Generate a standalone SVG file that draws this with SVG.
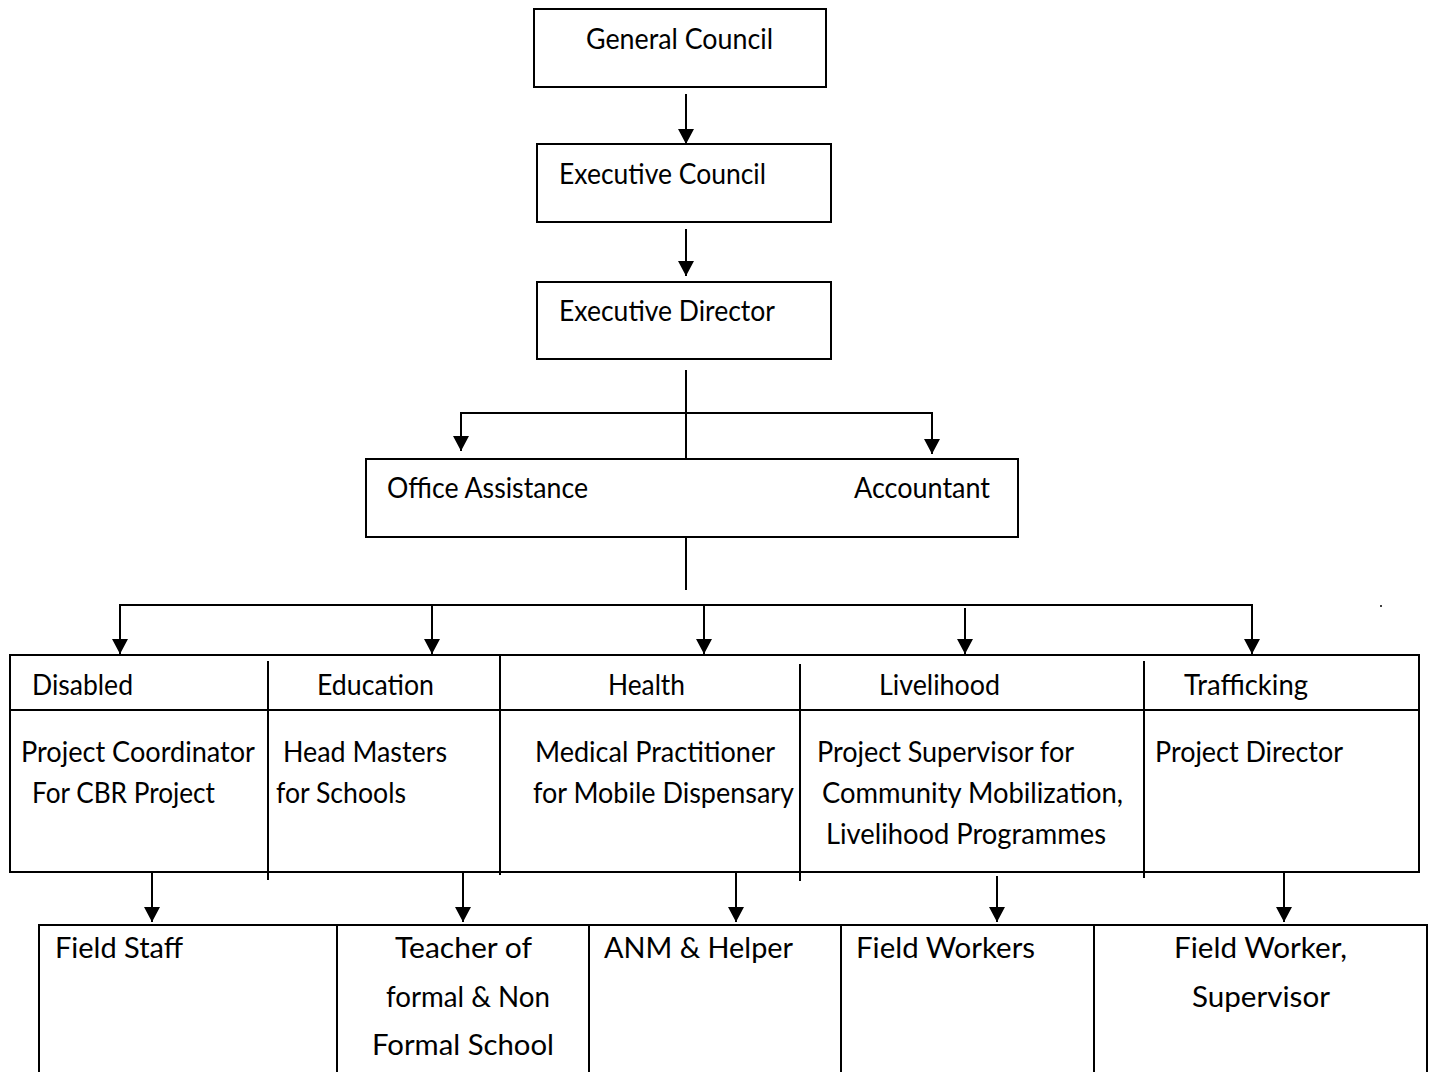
<svg xmlns="http://www.w3.org/2000/svg" width="1429" height="1072" viewBox="0 0 1429 1072">
  <style>
    .box { fill: #fff; stroke: #000; stroke-width: 2; }
    .ln { fill: none; stroke: #000; stroke-width: 2; }
    .t { font-family: Lato, "Liberation Sans", sans-serif; font-size: 28px; fill: #000; }
  </style>
  <defs>
    <marker id="arrow" markerUnits="userSpaceOnUse" markerWidth="16" markerHeight="18" refX="15" refY="9" orient="auto">
      <path d="M0,1 L15,9 L0,17 z" fill="#000"/>
    </marker>
  </defs>
  <rect width="1429" height="1072" fill="#fff"/>

  <!-- governing bodies -->
  <g id="general-council">
    <rect class="box" x="534" y="9" width="292" height="78"/>
    <text class="t" x="586" y="49" textLength="187" lengthAdjust="spacingAndGlyphs">General Council</text>
  </g>
  <g id="executive-council">
    <rect class="box" x="537" y="144" width="294" height="78"/>
    <text class="t" x="559" y="184" textLength="207" lengthAdjust="spacingAndGlyphs">Executive Council</text>
  </g>
  <g id="executive-director">
    <rect class="box" x="537" y="282" width="294" height="77"/>
    <text class="t" x="559" y="321" textLength="216" lengthAdjust="spacingAndGlyphs">Executive Director</text>
  </g>

  <!-- office staff -->
  <g id="office-staff">
    <rect class="box" x="366" y="459" width="652" height="78"/>
    <text class="t" x="387" y="498" textLength="201" lengthAdjust="spacingAndGlyphs">Office Assistance</text>
    <text class="t" x="854" y="498" textLength="136" lengthAdjust="spacingAndGlyphs">Accountant</text>
  </g>

  <!-- programme departments table -->
  <g id="departments">
    <rect class="box" x="10" y="655" width="1409" height="217"/>
    <line class="ln" x1="10" y1="710" x2="1419" y2="710"/>
    <line class="ln" x1="268" y1="661" x2="268" y2="880"/>
    <line class="ln" x1="500" y1="655" x2="500" y2="875"/>
    <line class="ln" x1="800" y1="664" x2="800" y2="881"/>
    <line class="ln" x1="1144" y1="661" x2="1144" y2="878"/>
  </g>
  <g id="dept-disabled">
    <text class="t" x="32" y="695" textLength="101" lengthAdjust="spacingAndGlyphs">Disabled</text>
    <text class="t" x="21" y="762" textLength="234" lengthAdjust="spacingAndGlyphs">Project Coordinator</text>
    <text class="t" x="32" y="803" textLength="183" lengthAdjust="spacingAndGlyphs">For CBR Project</text>
  </g>
  <g id="dept-education">
    <text class="t" x="317" y="695" textLength="117" lengthAdjust="spacingAndGlyphs">Education</text>
    <text class="t" x="283" y="762" textLength="164" lengthAdjust="spacingAndGlyphs">Head Masters</text>
    <text class="t" x="276" y="803" textLength="130" lengthAdjust="spacingAndGlyphs">for Schools</text>
  </g>
  <g id="dept-health">
    <text class="t" x="608" y="695" textLength="77" lengthAdjust="spacingAndGlyphs">Health</text>
    <text class="t" x="535" y="762" textLength="240" lengthAdjust="spacingAndGlyphs">Medical Practitioner</text>
    <text class="t" x="533" y="803" textLength="261" lengthAdjust="spacingAndGlyphs">for Mobile Dispensary</text>
  </g>
  <g id="dept-livelihood">
    <text class="t" x="879" y="695" textLength="121" lengthAdjust="spacingAndGlyphs">Livelihood</text>
    <text class="t" x="817" y="762" textLength="257" lengthAdjust="spacingAndGlyphs">Project Supervisor for</text>
    <text class="t" x="822" y="803" textLength="301" lengthAdjust="spacingAndGlyphs">Community Mobilization,</text>
    <text class="t" x="826" y="844" textLength="280" lengthAdjust="spacingAndGlyphs">Livelihood Programmes</text>
  </g>
  <g id="dept-trafficking">
    <text class="t" x="1184" y="695" textLength="124" lengthAdjust="spacingAndGlyphs">Trafficking</text>
    <text class="t" x="1155" y="762" textLength="188" lengthAdjust="spacingAndGlyphs">Project Director</text>
  </g>

  <!-- field level staff table -->
  <g id="field-staff-table">
    <rect class="box" x="39" y="925" width="1388" height="160"/>
    <line class="ln" x1="337" y1="925" x2="337" y2="1072"/>
    <line class="ln" x1="589" y1="925" x2="589" y2="1072"/>
    <line class="ln" x1="841" y1="925" x2="841" y2="1072"/>
    <line class="ln" x1="1094" y1="925" x2="1094" y2="1072"/>
  </g>
  <g id="field-disabled">
    <text class="t" x="55" y="958" textLength="128" lengthAdjust="spacingAndGlyphs">Field Staff</text>
  </g>
  <g id="field-education">
    <text class="t" x="395" y="958" textLength="137" lengthAdjust="spacingAndGlyphs">Teacher of</text>
    <text class="t" x="386" y="1007" textLength="164" lengthAdjust="spacingAndGlyphs">formal &amp; Non</text>
    <text class="t" x="372" y="1055" textLength="182" lengthAdjust="spacingAndGlyphs">Formal School</text>
  </g>
  <g id="field-health">
    <text class="t" x="604" y="958" textLength="189" lengthAdjust="spacingAndGlyphs">ANM &amp; Helper</text>
  </g>
  <g id="field-livelihood">
    <text class="t" x="856" y="958" textLength="179" lengthAdjust="spacingAndGlyphs">Field Workers</text>
  </g>
  <g id="field-trafficking">
    <text class="t" x="1174" y="958" textLength="173" lengthAdjust="spacingAndGlyphs">Field Worker,</text>
    <text class="t" x="1192" y="1007" textLength="138" lengthAdjust="spacingAndGlyphs">Supervisor</text>
  </g>

  <!-- connectors -->
  <g id="connectors">
    <line class="ln" x1="686" y1="94" x2="686" y2="144" marker-end="url(#arrow)"/>
    <line class="ln" x1="686" y1="229" x2="686" y2="276" marker-end="url(#arrow)"/>
    <line class="ln" x1="686" y1="370" x2="686" y2="459"/>
    <line class="ln" x1="461" y1="413" x2="932" y2="413"/>
    <line class="ln" x1="461" y1="412" x2="461" y2="451" marker-end="url(#arrow)"/>
    <line class="ln" x1="932" y1="412" x2="932" y2="454" marker-end="url(#arrow)"/>
    <line class="ln" x1="686" y1="537" x2="686" y2="590"/>
    <line class="ln" x1="120" y1="605" x2="1252" y2="605"/>
    <line class="ln" x1="120" y1="604" x2="120" y2="654" marker-end="url(#arrow)"/>
    <line class="ln" x1="432" y1="605" x2="432" y2="654" marker-end="url(#arrow)"/>
    <line class="ln" x1="704" y1="605" x2="704" y2="654" marker-end="url(#arrow)"/>
    <line class="ln" x1="965" y1="608" x2="965" y2="654" marker-end="url(#arrow)"/>
    <line class="ln" x1="1252" y1="604" x2="1252" y2="654" marker-end="url(#arrow)"/>
    <line class="ln" x1="152" y1="872" x2="152" y2="922" marker-end="url(#arrow)"/>
    <line class="ln" x1="463" y1="873" x2="463" y2="922" marker-end="url(#arrow)"/>
    <line class="ln" x1="736" y1="872" x2="736" y2="922" marker-end="url(#arrow)"/>
    <line class="ln" x1="997" y1="876" x2="997" y2="922" marker-end="url(#arrow)"/>
    <line class="ln" x1="1284" y1="872" x2="1284" y2="922" marker-end="url(#arrow)"/>
  </g>
  <circle cx="1381" cy="606" r="1" fill="#000"/>
</svg>
